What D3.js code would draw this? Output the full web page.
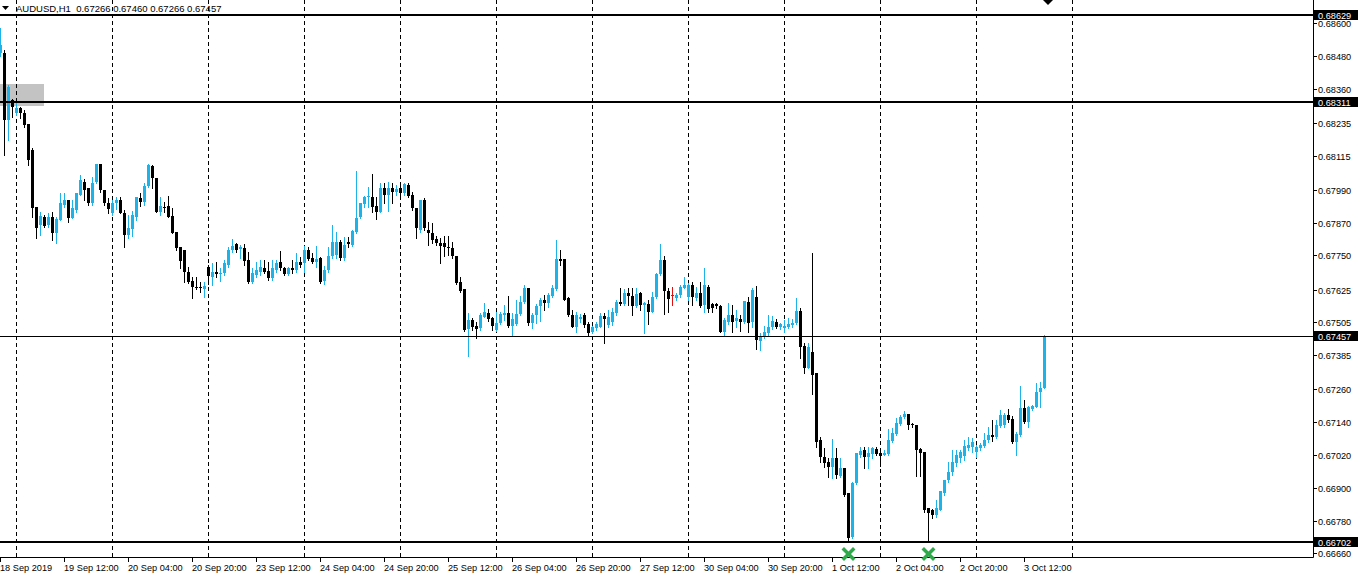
<!DOCTYPE html>
<html><head><meta charset="utf-8">
<script src="https://cdn.jsdelivr.net/npm/d3@7"></script>
<style>html,body{margin:0;padding:0;background:#fff;overflow:hidden}svg{display:block}</style>
</head><body><svg id="c" width="1358" height="577"></svg>
<script>
const chartTitle = "AUDUSD,H1";
const titleValues = ["0.67266", "0.67460", "0.67266", "0.67457"];

const openP = [0.68490,0.68490,0.68245,0.68318,0.68271,0.68289,0.68271,0.68230,0.68135,0.67927,0.67861,0.67890,0.67861,0.67890,0.67832,0.67879,0.67935,0.67953,0.67887,0.67916,0.67971,0.68019,0.67997,0.67942,0.68019,0.68084,0.67989,0.67942,0.67905,0.67942,0.67953,0.67905,0.67825,0.67846,0.67890,0.67960,0.67946,0.68004,0.68077,0.68033,0.67909,0.67927,0.67931,0.67894,0.67836,0.67780,0.67770,0.67690,0.67656,0.67634,0.67634,0.67627,0.67707,0.67671,0.67690,0.67682,0.67686,0.67715,0.67770,0.67791,0.67773,0.67777,0.67733,0.67653,0.67679,0.67690,0.67704,0.67693,0.67668,0.67697,0.67726,0.67704,0.67682,0.67704,0.67697,0.67726,0.67722,0.67770,0.67741,0.67726,0.67741,0.67656,0.67697,0.67748,0.67752,0.67799,0.67741,0.67799,0.67788,0.67836,0.67890,0.67938,0.67963,0.67963,0.67931,0.67909,0.67997,0.67971,0.67997,0.67982,0.67997,0.67978,0.68008,0.67971,0.67924,0.67843,0.67953,0.67843,0.67832,0.67810,0.67795,0.67795,0.67780,0.67777,0.67748,0.67653,0.67627,0.67481,0.67514,0.67492,0.67485,0.67524,0.67539,0.67521,0.67477,0.67503,0.67532,0.67539,0.67492,0.67499,0.67535,0.67580,0.67631,0.67503,0.67532,0.67565,0.67587,0.67576,0.67602,0.67627,0.67737,0.67737,0.67595,0.67532,0.67488,0.67517,0.67532,0.67499,0.67470,0.67485,0.67488,0.67528,0.67496,0.67507,0.67539,0.67580,0.67572,0.67613,0.67602,0.67565,0.67613,0.67569,0.67572,0.67543,0.67598,0.67682,0.67733,0.67620,0.67606,0.67595,0.67606,0.67631,0.67598,0.67642,0.67595,0.67613,0.67569,0.67634,0.67572,0.67572,0.67565,0.67470,0.67507,0.67532,0.67510,0.67517,0.67507,0.67580,0.67507,0.67598,0.67437,0.67451,0.67466,0.67488,0.67507,0.67488,0.67485,0.67488,0.67496,0.67503,0.67546,0.67419,0.67339,0.67397,0.67320,0.67075,0.67013,0.66995,0.66976,0.67010,0.66943,0.66973,0.66881,0.66720,0.66918,0.67021,0.67039,0.67013,0.67024,0.67042,0.67028,0.67021,0.67024,0.67071,0.67097,0.67133,0.67159,0.67170,0.67133,0.67130,0.67042,0.67032,0.66826,0.66819,0.66801,0.66819,0.66881,0.66929,0.66958,0.66991,0.67010,0.67017,0.67046,0.67049,0.67032,0.67046,0.67053,0.67075,0.67094,0.67086,0.67126,0.67130,0.67167,0.67152,0.67068,0.67094,0.67192,0.67141,0.67188,0.67195,0.67251,0.67266];

const highP = [0.68582,0.68501,0.68373,0.68322,0.68307,0.68292,0.68282,0.68230,0.68143,0.67927,0.67909,0.67898,0.67905,0.67909,0.67890,0.67978,0.67978,0.67953,0.67953,0.67978,0.68044,0.68029,0.67997,0.68036,0.68084,0.68084,0.67989,0.67960,0.67953,0.67963,0.67963,0.67916,0.67898,0.67912,0.67963,0.67978,0.68015,0.68084,0.68081,0.68033,0.67963,0.67946,0.67967,0.67924,0.67836,0.67780,0.67770,0.67707,0.67671,0.67671,0.67653,0.67653,0.67715,0.67722,0.67726,0.67704,0.67733,0.67780,0.67810,0.67795,0.67788,0.67791,0.67763,0.67704,0.67726,0.67733,0.67733,0.67726,0.67733,0.67733,0.67766,0.67707,0.67707,0.67733,0.67759,0.67744,0.67784,0.67780,0.67759,0.67784,0.67744,0.67711,0.67780,0.67861,0.67836,0.67806,0.67817,0.67817,0.67843,0.68058,0.67942,0.67967,0.68000,0.68047,0.67963,0.68015,0.68015,0.68019,0.68015,0.68008,0.68015,0.68015,0.68015,0.67982,0.67924,0.67953,0.67960,0.67872,0.67868,0.67821,0.67814,0.67821,0.67821,0.67799,0.67748,0.67671,0.67627,0.67539,0.67521,0.67507,0.67539,0.67576,0.67554,0.67524,0.67543,0.67543,0.67569,0.67602,0.67539,0.67587,0.67602,0.67642,0.67631,0.67539,0.67572,0.67595,0.67606,0.67613,0.67642,0.67806,0.67770,0.67737,0.67598,0.67550,0.67543,0.67535,0.67539,0.67507,0.67492,0.67507,0.67539,0.67539,0.67550,0.67558,0.67587,0.67631,0.67627,0.67631,0.67631,0.67631,0.67617,0.67580,0.67587,0.67617,0.67686,0.67791,0.67748,0.67631,0.67634,0.67613,0.67642,0.67671,0.67649,0.67653,0.67634,0.67653,0.67704,0.67642,0.67576,0.67576,0.67569,0.67521,0.67576,0.67569,0.67550,0.67532,0.67583,0.67598,0.67631,0.67638,0.67466,0.67492,0.67532,0.67528,0.67517,0.67503,0.67514,0.67521,0.67517,0.67595,0.67558,0.67430,0.67430,0.67759,0.67320,0.67086,0.67046,0.67010,0.67079,0.67046,0.67010,0.66973,0.66881,0.66922,0.67028,0.67049,0.67049,0.67049,0.67049,0.67049,0.67039,0.67039,0.67115,0.67119,0.67156,0.67167,0.67181,0.67170,0.67137,0.67130,0.67046,0.67032,0.66826,0.66823,0.66856,0.66888,0.66929,0.66995,0.67039,0.67039,0.67039,0.67075,0.67086,0.67083,0.67057,0.67064,0.67101,0.67122,0.67148,0.67148,0.67185,0.67174,0.67188,0.67163,0.67104,0.67273,0.67221,0.67199,0.67203,0.67284,0.67288,0.67460];

const lowP = [0.68479,0.68117,0.68172,0.68256,0.68264,0.68253,0.68219,0.68081,0.67890,0.67814,0.67825,0.67853,0.67853,0.67806,0.67795,0.67879,0.67927,0.67872,0.67887,0.67909,0.67971,0.67953,0.67935,0.67935,0.68015,0.67982,0.67935,0.67905,0.67898,0.67920,0.67905,0.67780,0.67814,0.67821,0.67879,0.67931,0.67935,0.68000,0.67997,0.67909,0.67898,0.67909,0.67890,0.67832,0.67770,0.67704,0.67653,0.67649,0.67595,0.67627,0.67617,0.67598,0.67645,0.67642,0.67671,0.67656,0.67679,0.67707,0.67763,0.67763,0.67741,0.67715,0.67649,0.67649,0.67671,0.67679,0.67686,0.67660,0.67660,0.67690,0.67697,0.67679,0.67679,0.67686,0.67690,0.67707,0.67690,0.67733,0.67722,0.67707,0.67649,0.67645,0.67690,0.67741,0.67741,0.67733,0.67733,0.67780,0.67784,0.67832,0.67887,0.67927,0.67927,0.67909,0.67883,0.67909,0.67942,0.67912,0.67942,0.67971,0.67971,0.67971,0.67963,0.67916,0.67814,0.67836,0.67843,0.67788,0.67795,0.67788,0.67722,0.67748,0.67752,0.67741,0.67645,0.67617,0.67473,0.67382,0.67477,0.67448,0.67477,0.67524,0.67510,0.67477,0.67473,0.67499,0.67514,0.67488,0.67459,0.67496,0.67532,0.67576,0.67496,0.67485,0.67503,0.67510,0.67550,0.67561,0.67598,0.67624,0.67715,0.67587,0.67528,0.67488,0.67470,0.67507,0.67488,0.67455,0.67466,0.67477,0.67488,0.67430,0.67488,0.67496,0.67532,0.67569,0.67569,0.67569,0.67532,0.67561,0.67550,0.67466,0.67499,0.67543,0.67595,0.67679,0.67535,0.67543,0.67569,0.67587,0.67598,0.67631,0.67587,0.67569,0.67587,0.67561,0.67543,0.67543,0.67543,0.67558,0.67470,0.67455,0.67499,0.67470,0.67488,0.67473,0.67503,0.67470,0.67488,0.67408,0.67404,0.67448,0.67459,0.67481,0.67485,0.67481,0.67470,0.67485,0.67488,0.67499,0.67375,0.67320,0.67339,0.67243,0.67049,0.66995,0.66976,0.66939,0.66936,0.66936,0.66939,0.66870,0.66703,0.66717,0.66914,0.67013,0.66973,0.66973,0.67010,0.67021,0.66980,0.67021,0.67021,0.67068,0.67094,0.67130,0.67156,0.67115,0.67122,0.66943,0.66943,0.66812,0.66703,0.66790,0.66793,0.66819,0.66874,0.66922,0.66947,0.66980,0.66995,0.67002,0.67039,0.67032,0.67013,0.67039,0.67049,0.67068,0.67071,0.67083,0.67122,0.67122,0.67141,0.67064,0.67021,0.67090,0.67137,0.67122,0.67185,0.67195,0.67195,0.67266];

const closeP = [0.68520,0.68245,0.68365,0.68292,0.68289,0.68271,0.68227,0.68099,0.67924,0.67850,0.67894,0.67857,0.67890,0.67832,0.67883,0.67942,0.67953,0.67887,0.67924,0.67978,0.68026,0.67989,0.67942,0.68015,0.68084,0.67989,0.67942,0.67920,0.67942,0.67953,0.67905,0.67825,0.67850,0.67898,0.67963,0.67946,0.68004,0.68081,0.68033,0.67909,0.67931,0.67924,0.67890,0.67832,0.67777,0.67729,0.67690,0.67653,0.67634,0.67631,0.67631,0.67638,0.67675,0.67690,0.67682,0.67686,0.67722,0.67770,0.67784,0.67770,0.67780,0.67729,0.67653,0.67686,0.67697,0.67707,0.67690,0.67668,0.67704,0.67722,0.67704,0.67682,0.67704,0.67697,0.67726,0.67715,0.67770,0.67737,0.67726,0.67737,0.67653,0.67697,0.67748,0.67799,0.67799,0.67741,0.67788,0.67791,0.67839,0.67887,0.67942,0.67963,0.67967,0.67927,0.67909,0.67997,0.67971,0.67997,0.67982,0.67993,0.67978,0.68011,0.67967,0.67924,0.67850,0.67953,0.67850,0.67832,0.67806,0.67795,0.67784,0.67780,0.67777,0.67748,0.67649,0.67620,0.67477,0.67514,0.67488,0.67481,0.67532,0.67543,0.67517,0.67492,0.67503,0.67535,0.67539,0.67492,0.67517,0.67535,0.67580,0.67631,0.67503,0.67532,0.67565,0.67587,0.67576,0.67606,0.67631,0.67737,0.67729,0.67587,0.67532,0.67488,0.67532,0.67524,0.67496,0.67466,0.67488,0.67499,0.67528,0.67517,0.67524,0.67543,0.67580,0.67572,0.67613,0.67602,0.67565,0.67609,0.67569,0.67576,0.67543,0.67598,0.67682,0.67733,0.67620,0.67591,0.67606,0.67606,0.67634,0.67642,0.67642,0.67598,0.67613,0.67565,0.67642,0.67554,0.67558,0.67565,0.67470,0.67514,0.67532,0.67507,0.67521,0.67507,0.67583,0.67503,0.67624,0.67441,0.67455,0.67470,0.67488,0.67510,0.67488,0.67499,0.67492,0.67499,0.67503,0.67546,0.67415,0.67339,0.67415,0.67313,0.67068,0.67013,0.66991,0.66976,0.67010,0.66947,0.66973,0.66874,0.66717,0.66918,0.67028,0.67035,0.67013,0.67028,0.67046,0.67024,0.67017,0.67028,0.67075,0.67101,0.67137,0.67159,0.67170,0.67130,0.67130,0.67039,0.67028,0.66819,0.66808,0.66801,0.66826,0.66888,0.66929,0.66958,0.66995,0.67021,0.67032,0.67053,0.67057,0.67068,0.67049,0.67057,0.67075,0.67094,0.67086,0.67130,0.67167,0.67167,0.67148,0.67068,0.67097,0.67192,0.67141,0.67195,0.67199,0.67251,0.67266,0.67457];

const timeTickLabels = ["18 Sep 2019","19 Sep 12:00","20 Sep 04:00","20 Sep 20:00","23 Sep 12:00","24 Sep 04:00","24 Sep 20:00","25 Sep 12:00","26 Sep 04:00","26 Sep 20:00","27 Sep 12:00","30 Sep 04:00","30 Sep 20:00","1 Oct 12:00","2 Oct 04:00","2 Oct 20:00","3 Oct 12:00"];
const timeTickBars = [0,16,32,48,64,80,96,112,128,144,160,176,192,208,224,240,256];
const dayStartBars = [4,28,52,76,100,124,148,172,196,220,244,268];
const priceTicks = [0.68600,0.68480,0.68360,0.68235,0.68115,0.67990,0.67870,0.67750,0.67625,0.67505,0.67385,0.67260,0.67140,0.67020,0.66900,0.66780,0.66660];
const levelPrices = [0.68629, 0.68311, 0.67457, 0.66702];
const levelLabels = ["0.68629", "0.68311", "0.67457", "0.66702"];
const markerBars = [212, 232];
const arrowBar = 262;
const boxBars = [0, 11];
const boxPrices = [0.68376, 0.68296];

// ---- layout & styles ----
const plotRight = 1313, plotBottom = 557;
const BULL = "#1eb3e8", BEAR = "#000000", DOJI = "#e01010";
const FONT = "'Liberation Sans', Arial, sans-serif";

const svg = d3.select("#c");
const x = d3.scaleLinear().domain([0, 261]).range([0, 1044]);
const y = d3.scaleLinear().domain([0.66702, 0.68629]).range([542, 15]);

const bars = openP.map((o, i) => ({i, o, h: highP[i], l: lowP[i], c: closeP[i]}));

svg.append("defs").append("clipPath").attr("id", "plotclip")
  .append("rect").attr("x", 0).attr("y", 0).attr("width", plotRight).attr("height", plotBottom);

const plot = svg.append("g").attr("clip-path", "url(#plotclip)");

// grey box object
plot.append("rect")
  .attr("x", x(boxBars[0]))
  .attr("y", Math.round(y(boxPrices[0])))
  .attr("width", x(boxBars[1]) - x(boxBars[0]))
  .attr("height", Math.round(y(boxPrices[1])) - Math.round(y(boxPrices[0])))
  .attr("fill", "#c3c3c3");

// day grid lines
plot.selectAll("line.grid").data(dayStartBars).join("line")
  .attr("class", "grid")
  .attr("x1", d => Math.round(x(d)) + 0.5).attr("x2", d => Math.round(x(d)) + 0.5)
  .attr("y1", 0).attr("y2", plotBottom)
  .attr("stroke", "#000").attr("stroke-width", 1).attr("stroke-dasharray", "4,3");

// candles
const colorOf = b => b.c > b.o ? BULL : (b.c < b.o ? BEAR : DOJI);
const cg = plot.append("g");
cg.selectAll("rect.wick").data(bars).join("rect")
  .attr("class", "wick")
  .attr("x", b => Math.round(x(b.i)))
  .attr("y", b => Math.round(y(b.h)))
  .attr("width", 1)
  .attr("height", b => Math.max(1, Math.round(y(b.l)) - Math.round(y(b.h)) + 1))
  .attr("fill", colorOf);
cg.selectAll("rect.body").data(bars).join("rect")
  .attr("class", "body")
  .attr("x", b => Math.round(x(b.i)) - 1)
  .attr("y", b => Math.round(y(Math.max(b.o, b.c))))
  .attr("width", 3)
  .attr("height", b => Math.max(1, Math.round(y(Math.min(b.o, b.c))) - Math.round(y(Math.max(b.o, b.c)))))
  .attr("fill", colorOf);

// horizontal level lines
const levelWidths = [2, 2, 1, 2];
plot.selectAll("line.level").data(levelPrices).join("line")
  .attr("class", "level")
  .attr("x1", 0).attr("x2", plotRight)
  .attr("y1", (d, i) => Math.round(y(d)) + (levelWidths[i] === 1 ? 0.5 : 0))
  .attr("y2", (d, i) => Math.round(y(d)) + (levelWidths[i] === 1 ? 0.5 : 0))
  .attr("stroke", "#000").attr("stroke-width", (d, i) => levelWidths[i]);

// arrow object at top
const ax = Math.round(x(arrowBar));
plot.append("path")
  .attr("d", `M${ax - 5},0 L${ax + 5},0 L${ax},5 Z`)
  .attr("fill", "#000");

// frame
svg.append("line").attr("x1", 0).attr("x2", plotRight + 0.5).attr("y1", plotBottom + 0.5).attr("y2", plotBottom + 0.5)
  .attr("stroke", "#000");
svg.append("line").attr("x1", plotRight + 0.5).attr("x2", plotRight + 0.5).attr("y1", 0).attr("y2", plotBottom + 0.5)
  .attr("stroke", "#000");

// time axis
const tg = svg.append("g");
tg.selectAll("line").data(timeTickBars).join("line")
  .attr("x1", d => Math.round(x(d)) + 0.5).attr("x2", d => Math.round(x(d)) + 0.5)
  .attr("y1", plotBottom).attr("y2", plotBottom + 5)
  .attr("stroke", "#000");
tg.selectAll("text").data(timeTickBars).join("text")
  .attr("x", d => Math.round(x(d)))
  .attr("y", 571)
  .attr("font-family", FONT).attr("font-size", "9.2px").attr("fill", "#000")
  .text((d, i) => timeTickLabels[i]);

// price axis
const pg = svg.append("g");
pg.selectAll("line").data(priceTicks).join("line")
  .attr("x1", plotRight).attr("x2", plotRight + 4)
  .attr("y1", d => Math.round(y(d)) + 0.5).attr("y2", d => Math.round(y(d)) + 0.5)
  .attr("stroke", "#000");
pg.selectAll("text").data(priceTicks).join("text")
  .attr("x", plotRight + 5)
  .attr("y", d => Math.round(y(d)) + 4)
  .attr("font-family", FONT).attr("font-size", "9.2px").attr("fill", "#000")
  .text(d => d.toFixed(5));

// level labels (black boxes)
const lg = svg.append("g");
lg.selectAll("rect").data(levelPrices).join("rect")
  .attr("x", plotRight + 1).attr("y", d => Math.round(y(d)) - 5)
  .attr("width", 1358 - plotRight - 1).attr("height", 10)
  .attr("fill", "#000");
lg.selectAll("text").data(levelPrices).join("text")
  .attr("x", plotRight + 5).attr("y", d => Math.round(y(d)) + 3.5)
  .attr("font-family", FONT).attr("font-size", "9.2px").attr("fill", "#fff")
  .text((d, i) => levelLabels[i]);

// green X markers below lows
const mg = svg.append("g");
markerBars.forEach(b => {
  const cx = Math.round(x(b)) + 0.5, cy = Math.round(y(lowP[b])) + 12;
  mg.append("path")
    .attr("d", `M${cx - 4.5},${cy - 4.5} L${cx + 4.5},${cy + 4.5} M${cx + 4.5},${cy - 4.5} L${cx - 4.5},${cy + 4.5}`)
    .attr("stroke", "#2ea84a").attr("stroke-width", 3.5).attr("stroke-linecap", "square");
});

// title
svg.append("path").attr("d", "M2,6 L9,6 L5.5,10 Z").attr("fill", "#000");
svg.append("text").attr("x", 16).attr("y", 12)
  .attr("font-family", FONT).attr("font-size", "9.5px").attr("fill", "#000")
  .attr("xml:space", "preserve")
  .text(chartTitle + "  " + titleValues.join(" "));
</script>
</body></html>
